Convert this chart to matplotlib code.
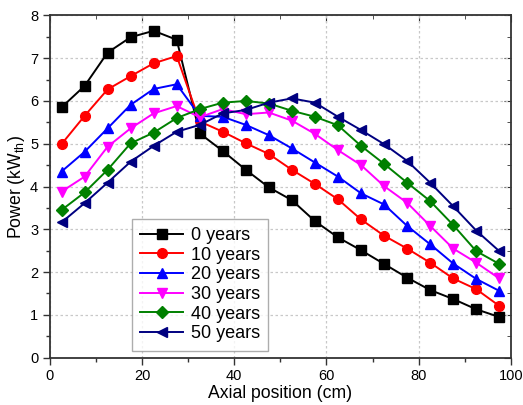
import matplotlib
matplotlib.use("Agg")
import matplotlib.pyplot as plt
from matplotlib.ticker import MultipleLocator

plt.rcParams['font.family'] = ['Liberation Sans', 'DejaVu Sans']
plt.rcParams['mathtext.fontset'] = 'custom'
plt.rcParams['mathtext.rm'] = 'Liberation Sans'
plt.rcParams['mathtext.it'] = 'Liberation Sans:italic'

position_cm = [2.5, 7.5, 12.5, 17.5, 22.5, 27.5, 32.5, 37.5, 42.5, 47.5,
               52.5, 57.5, 62.5, 67.5, 72.5, 77.5, 82.5, 87.5, 92.5, 97.5]

power_0y = [5.85, 6.35, 7.13, 7.49, 7.64, 7.43, 5.24, 4.83, 4.39, 3.98,
            3.68, 3.19, 2.81, 2.51, 2.19, 1.87, 1.58, 1.37, 1.13, 0.95]
power_10y = [4.99, 5.65, 6.27, 6.58, 6.88, 7.05, 5.52, 5.28, 5.01, 4.76,
             4.39, 4.06, 3.70, 3.23, 2.85, 2.55, 2.22, 1.85, 1.60, 1.21]
power_20y = [4.35, 4.81, 5.36, 5.91, 6.28, 6.39, 5.65, 5.63, 5.44, 5.20,
             4.89, 4.56, 4.23, 3.84, 3.58, 3.08, 2.65, 2.20, 1.84, 1.56]
power_30y = [3.88, 4.23, 4.93, 5.36, 5.71, 5.88, 5.62, 5.81, 5.69, 5.73,
             5.54, 5.23, 4.85, 4.50, 4.01, 3.62, 3.08, 2.55, 2.22, 1.85]
power_40y = [3.45, 3.86, 4.39, 5.01, 5.26, 5.60, 5.81, 5.96, 6.00, 5.94,
             5.77, 5.63, 5.43, 4.95, 4.53, 4.09, 3.66, 3.10, 2.49, 2.19]
power_50y = [3.16, 3.61, 4.09, 4.58, 4.95, 5.28, 5.44, 5.71, 5.79, 5.96,
             6.06, 5.96, 5.63, 5.32, 4.99, 4.60, 4.09, 3.54, 2.97, 2.49]

series_labels = ['0 years', '10 years', '20 years', '30 years', '40 years', '50 years']
series_values = [power_0y, power_10y, power_20y, power_30y, power_40y, power_50y]
series_colors = ['#000000', '#FF0000', '#0000FF', '#FF00FF', '#008000', '#000080']
series_markers = ['s', 'o', '^', 'v', 'D', '<']
marker_sizes = [6.5, 7, 7.5, 7.5, 6, 7.5]

fig = plt.figure(figsize=(5.23, 4.05), dpi=100)
ax = fig.add_axes([0.0956, 0.117, 0.881, 0.845])

for vals, lab, col, mk, ms in zip(series_values, series_labels, series_colors,
                                  series_markers, marker_sizes):
    ax.plot(position_cm, vals, color=col, marker=mk, markersize=ms,
            linewidth=1.4, label=lab)

ax.set_xlim(0, 100)
ax.set_ylim(0, 8)
ax.xaxis.set_major_locator(MultipleLocator(20))
ax.xaxis.set_minor_locator(MultipleLocator(10))
ax.yaxis.set_major_locator(MultipleLocator(1))
ax.yaxis.set_minor_locator(MultipleLocator(0.5))
ax.grid(True, which='major', linestyle=(0, (2, 2)), color='#c8c8c8', linewidth=0.9)
ax.set_axisbelow(True)

ax.tick_params(which='both', direction='out', top=False, right=False,
               labelsize=10.5, width=1.0, color='#333333')
ax.tick_params(which='major', length=5)
ax.tick_params(which='minor', length=3)
for side in ['top', 'right', 'bottom', 'left']:
    ax.spines[side].set_linewidth(1.3)
    ax.spines[side].set_color('#333333')

# mirrored inward ticks on top and right edges
secx = ax.secondary_xaxis('top')
secx.xaxis.set_major_locator(MultipleLocator(20))
secx.xaxis.set_minor_locator(MultipleLocator(10))
secx.tick_params(which='both', direction='in', labeltop=False, color='#333333')
secx.tick_params(which='major', length=5)
secx.tick_params(which='minor', length=3)
secy = ax.secondary_yaxis('right')
secy.yaxis.set_major_locator(MultipleLocator(1))
secy.yaxis.set_minor_locator(MultipleLocator(0.5))
secy.tick_params(which='both', direction='in', labelright=False, color='#333333')
secy.tick_params(which='major', length=5)
secy.tick_params(which='minor', length=3)
secx.spines['top'].set_visible(False)
secy.spines['right'].set_visible(False)

ax.set_xlabel('Axial position (cm)', fontsize=12.7, labelpad=1)
ax.set_ylabel('Power (kW$_{\\mathrm{th}}$)', fontsize=12.7, labelpad=2)

leg = ax.legend(loc='lower left', bbox_to_anchor=(0.17, 0.01), fontsize=13,
                frameon=True, fancybox=False, edgecolor='#999999',
                handlelength=2.4, handletextpad=0.4, labelspacing=0.15,
                borderpad=0.45, borderaxespad=0.2)
leg.get_frame().set_linewidth(1.0)

fig.savefig('out.png', dpi=100)
